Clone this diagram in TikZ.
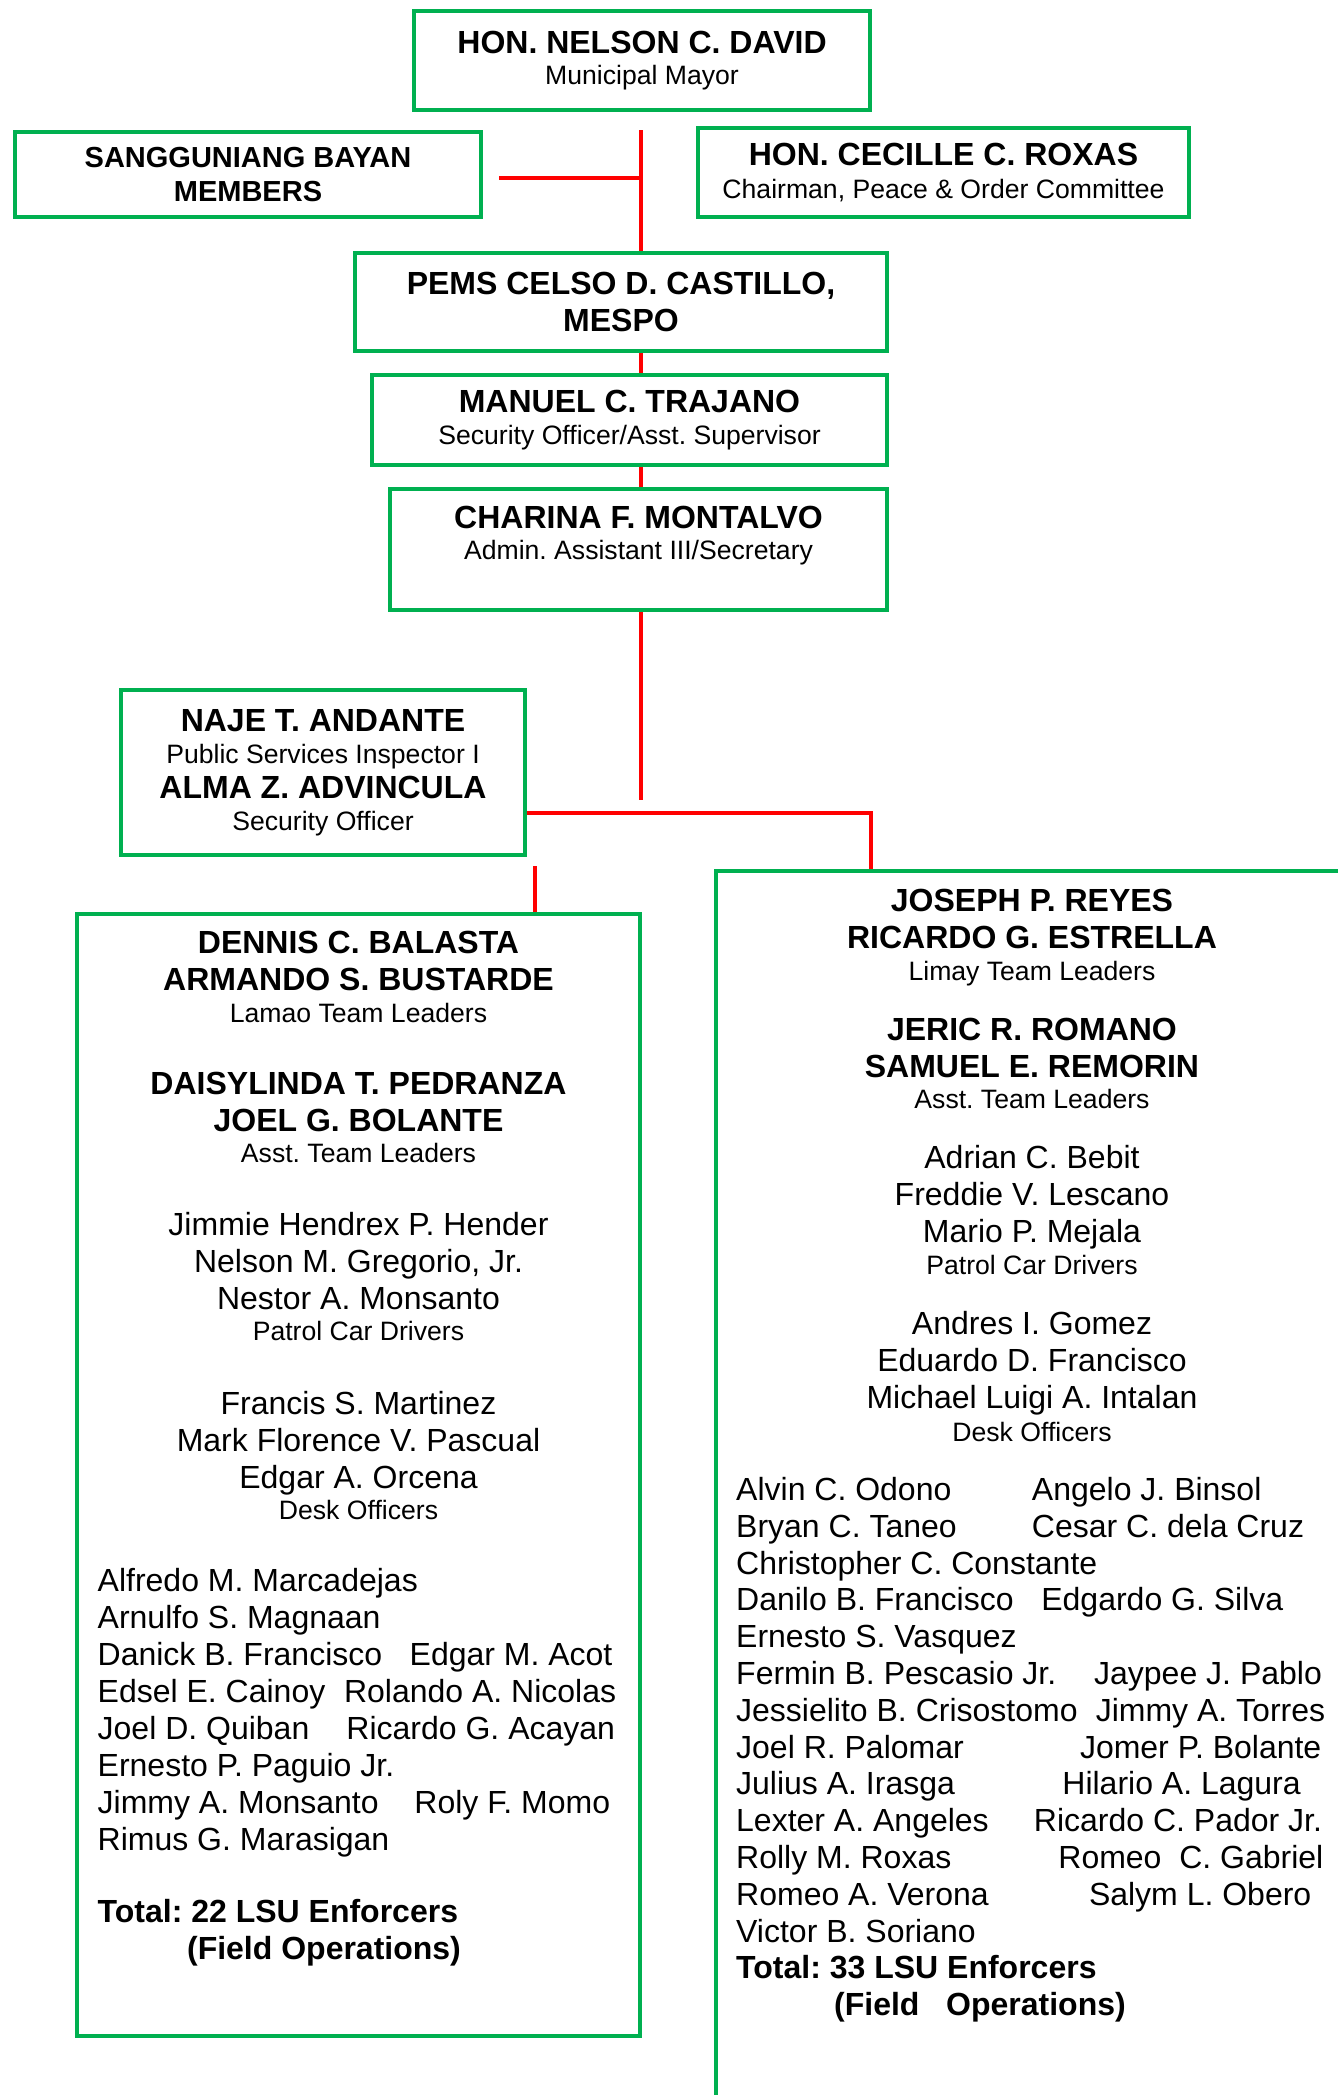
\documentclass[tikz,border=0pt]{standalone}
\usepackage{fontspec}
\setmainfont{Liberation Sans}
\frenchspacing
\definecolor{lsugreen}{RGB}{0,176,80}
\definecolor{lsured}{RGB}{255,0,0}
\newcommand{\postitle}[1]{{\fontsize{13.3}{16}\selectfont #1}}

\begin{document}
\begin{tikzpicture}[x=0.5pt,y=-0.5pt,line join=miter,
  unit/.style={draw=lsugreen,line width=2.4pt,inner sep=0pt,align=center,font=\fontsize{16}{18.5}\selectfont},
  txt/.style={inner sep=0pt,font=\fontsize{16}{18.5}\selectfont},
  link/.style={draw=lsured,line width=2.2pt}]
\useasboundingbox (0,0) rectangle (1338,2095);

% offices
\node[unit,minimum width=228pt,minimum height=49.5pt] (mayor) at (642,60.5)
  {\textbf{HON. NELSON C. DAVID}\\[-2.7pt]\postitle{Municipal Mayor}};
\node[unit,minimum width=233pt,minimum height=42.5pt,font=\fontsize{14.5}{16.7}\selectfont\bfseries] (sb) at (248,174.5)
  {SANGGUNIANG BAYAN\\MEMBERS};
\node[unit,minimum width=245.5pt,minimum height=44.5pt] (roxas) at (943.5,172.5)
  {\textbf{HON. CECILLE C. ROXAS}\\[-1.85pt]\postitle{Chairman, Peace \& Order Committee}};
\node[unit,minimum width=266pt,minimum height=49pt] (pems) at (621,302)
  {\textbf{PEMS CELSO D. CASTILLO,}\\\textbf{MESPO}};
\node[unit,minimum width=257.5pt,minimum height=45pt] (trajano) at (629.5,420)
  {\textbf{MANUEL C. TRAJANO}\\[-2.4pt]\postitle{Security Officer/Asst. Supervisor}};
\node[unit,minimum width=248.5pt,minimum height=60.5pt] (montalvo) at (638.5,549.5) {};
\node[txt,anchor=north,align=center] (montalvo-t) at (638.5,505.5)
  {\textbf{CHARINA F. MONTALVO}\\[-3pt]\postitle{Admin. Assistant III/Secretary}};
\node[unit,minimum width=202pt,minimum height=82.5pt] (naje) at (323,772.5)
  {\textbf{NAJE T. ANDANTE}\\[-2.45pt]\postitle{Public Services Inspector I}\\[-0.85pt]
   \textbf{ALMA Z. ADVINCULA}\\[-2.75pt]\postitle{Security Officer}};

% teams
\node[unit,minimum width=281.5pt,minimum height=561pt] (lamao) at (358.5,1475) {};
\node[txt,anchor=north,align=center] (lamao-head) at (358.5,931) {%
  \textbf{DENNIS C. BALASTA}\\
  \textbf{ARMANDO S. BUSTARDE}\\[-2.5pt]
  \postitle{Lamao Team Leaders}\\[17.2pt]
  \textbf{DAISYLINDA T. PEDRANZA}\\
  \textbf{JOEL G. BOLANTE}\\[-2.65pt]
  \postitle{Asst. Team Leaders}\\[17.65pt]
  Jimmie Hendrex P. Hender\\
  Nelson M. Gregorio, Jr.\\
  Nestor A. Monsanto\\[-2.85pt]
  \postitle{Patrol Car Drivers}\\[18.3pt]
  Francis S. Martinez\\
  Mark Florence V. Pascual\\
  Edgar A. Orcena\\[-2.75pt]
  \postitle{Desk Officers}};
\node[txt,anchor=north west,align=left] (lamao-list) at (97.3,1567.5) {%
  Alfredo M. Marcadejas\\
  Arnulfo S. Magnaan\\
  \makebox[156pt][l]{Danick B. Francisco}Edgar M. Acot\\
  \makebox[123.2pt][l]{Edsel E. Cainoy}Rolando A. Nicolas\\
  \makebox[124.4pt][l]{Joel D. Quiban}Ricardo G. Acayan\\
  Ernesto P. Paguio Jr.\\
  \makebox[158.4pt][l]{Jimmy A. Monsanto}Roly F. Momo\\
  Rimus G. Marasigan\\[17.65pt]
  \textbf{Total: 22 LSU Enforcers}\\
  \hspace*{44.7pt}\textbf{(Field Operations)}};

\node[unit,minimum width=317pt,minimum height=619.5pt] (limay) at (1033,1490.5) {};
\node[txt,anchor=north,align=center] (limay-head) at (1032,888.4) {%
  \textbf{JOSEPH P. REYES}\\
  \textbf{RICARDO G. ESTRELLA}\\[-2.45pt]
  \postitle{Limay Team Leaders}\\[11.45pt]
  \textbf{JERIC R. ROMANO}\\
  \textbf{SAMUEL E. REMORIN}\\[-2.7pt]
  \postitle{Asst. Team Leaders}\\[11.5pt]
  Adrian C. Bebit\\
  Freddie V. Lescano\\
  Mario P. Mejala\\[-2.65pt]
  \postitle{Patrol Car Drivers}\\[11.6pt]
  Andres I. Gomez\\
  Eduardo D. Francisco\\
  Michael Luigi A. Intalan\\[-2.3pt]
  \postitle{Desk Officers}};
\node[txt,anchor=north west,align=left] (limay-list) at (735.8,1476.8) {%
  \makebox[147.9pt][l]{Alvin C. Odono}Angelo J. Binsol\\[-0.1pt]
  \makebox[147.9pt][l]{Bryan C. Taneo}Cesar C. dela Cruz\\[-0.1pt]
  Christopher C. Constante\\[-0.1pt]
  \makebox[152.6pt][l]{Danilo B. Francisco}Edgardo G. Silva\\[-0.1pt]
  Ernesto S. Vasquez\\[-0.1pt]
  \makebox[179pt][l]{Fermin B. Pescasio Jr.}Jaypee J. Pablo\\[-0.1pt]
  \makebox[179.8pt][l]{Jessielito B. Crisostomo}Jimmy A. Torres\\[-0.1pt]
  \makebox[171.9pt][l]{Joel R. Palomar}Jomer P. Bolante\\[-0.1pt]
  \makebox[163.1pt][l]{Julius A. Irasga}Hilario A. Lagura\\[-0.1pt]
  \makebox[148.9pt][l]{Lexter A. Angeles}Ricardo C. Pador Jr.\\[-0.1pt]
  \makebox[161.1pt][l]{Rolly M. Roxas}Romeo\ \ C. Gabriel\\[-0.1pt]
  \makebox[176.4pt][l]{Romeo A. Verona}Salym L. Obero\\[-0.1pt]
  Victor B. Soriano\\[-0.1pt]
  \textbf{Total: 33 LSU Enforcers}\\
  \hspace*{49pt}\textbf{(Field\ \ \ Operations)}};

% connectors
\coordinate (spine) at (641,130);
\coordinate (sbend) at (499,178);
\coordinate (drop) at (641,800);
\coordinate (fork) at (871,813);
\coordinate (stub) at (535,866);
\draw[link] (spine) -- (pems.north -| spine);
\draw[link] (sbend) -- (sbend -| spine);
\draw[link] (pems.south -| spine) -- (trajano.north -| spine);
\draw[link] (trajano.south -| spine) -- (montalvo.north -| spine);
\draw[link] (montalvo.south -| spine) -- (drop);
\draw[link] (naje.east |- fork) -- (fork) -- (limay.north -| fork);
\draw[link] (stub) -- (lamao.north -| stub);
\end{tikzpicture}
\end{document}
